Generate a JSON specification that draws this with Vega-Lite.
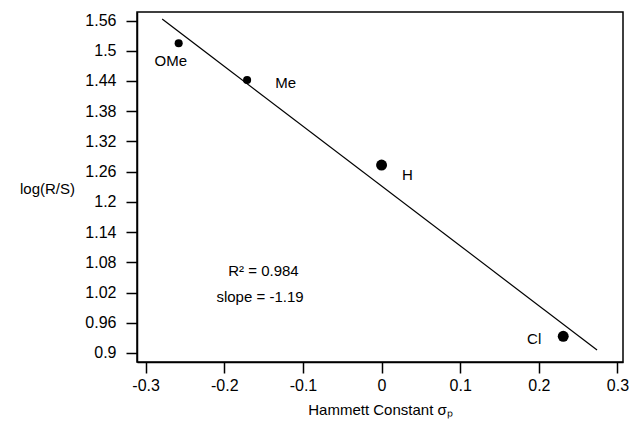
{
  "$schema": "https://vega.github.io/schema/vega-lite/v6.json",
  "width": 486,
  "height": 350,
  "autosize": "none",
  "padding": {"left": 137, "top": 12, "right": 8, "bottom": 64},
  "background": "white",
  "config": {
    "font": "Liberation Sans",
    "view": {"stroke": "black", "strokeWidth": 1.5},
    "axis": {
      "grid": false,
      "domainColor": "black",
      "domainWidth": 1.5,
      "tickColor": "black",
      "tickWidth": 1.5,
      "tickSize": 11,
      "labelColor": "black",
      "labelFont": "Liberation Sans",
      "labelFontSize": 16,
      "labelPadding": 4,
      "titleColor": "black",
      "titleFont": "Liberation Sans",
      "titleFontSize": 15,
      "titleFontWeight": "normal"
    }
  },
  "datasets": {
    "points": [
      {"sigma": -0.258, "logRS": 1.515, "sub": "OMe"},
      {"sigma": -0.171, "logRS": 1.442, "sub": "Me"},
      {"sigma": 0.0, "logRS": 1.273, "sub": "H"},
      {"sigma": 0.231, "logRS": 0.933, "sub": "Cl"}
    ],
    "labels": [
      {"sigma": -0.268, "logRS": 1.48, "sub": "OMe"},
      {"sigma": -0.122, "logRS": 1.436, "sub": "Me"},
      {"sigma": 0.033, "logRS": 1.253, "sub": "H"},
      {"sigma": 0.194, "logRS": 0.928, "sub": "Cl"}
    ],
    "fit": [
      {"sigma": -0.279, "logRS": 1.563},
      {"sigma": 0.274, "logRS": 0.906}
    ],
    "notes": [
      {"sigma": -0.195, "logRS": 1.062, "text": "R² = 0.984"},
      {"sigma": -0.21, "logRS": 1.012, "text": "slope = -1.19"}
    ]
  },
  "layer": [
    {
      "data": {"name": "fit"},
      "mark": {"type": "line", "color": "black", "strokeWidth": 1.2},
      "encoding": {
        "x": {
          "field": "sigma",
          "type": "quantitative",
          "scale": {"domain": [-0.311, 0.307], "nice": false, "zero": false},
          "axis": {
            "values": [-0.3, -0.2, -0.1, 0, 0.1, 0.2, 0.3],
            "tickCount": 20,
            "labelExpr": "'' + datum.value",
            "labelOverlap": false,
            "title": "Hammett Constant σₚ",
            "titleY": 47,
            "titleBaseline": "middle"
          }
        },
        "y": {
          "field": "logRS",
          "type": "quantitative",
          "scale": {"domain": [0.882, 1.577], "nice": false, "zero": false},
          "axis": {
            "values": [0.9, 0.96, 1.02, 1.08, 1.14, 1.2, 1.26, 1.32, 1.38, 1.44, 1.5, 1.56],
            "tickCount": 20,
            "labelExpr": "'' + datum.value",
            "labelOverlap": false,
            "labelPadding": 10,
            "title": "log(R/S)",
            "titleAngle": 0,
            "titleX": -90,
            "titleY": 176,
            "titleAlign": "center",
            "titleBaseline": "middle"
          }
        }
      }
    },
    {
      "data": {"name": "points"},
      "mark": {"type": "circle", "color": "black", "opacity": 1},
      "encoding": {
        "x": {"field": "sigma", "type": "quantitative"},
        "y": {"field": "logRS", "type": "quantitative"},
        "size": {
          "condition": {"test": "datum.sub === 'H' || datum.sub === 'Cl'", "value": 120},
          "value": 65
        }
      }
    },
    {
      "data": {"name": "labels"},
      "mark": {"type": "text", "color": "black", "fontSize": 15, "align": "center", "baseline": "middle"},
      "encoding": {
        "x": {"field": "sigma", "type": "quantitative"},
        "y": {"field": "logRS", "type": "quantitative"},
        "text": {"field": "sub"}
      }
    },
    {
      "data": {"name": "notes"},
      "mark": {"type": "text", "color": "black", "fontSize": 15, "align": "left", "baseline": "middle"},
      "encoding": {
        "x": {"field": "sigma", "type": "quantitative"},
        "y": {"field": "logRS", "type": "quantitative"},
        "text": {"field": "text"}
      }
    }
  ]
}
